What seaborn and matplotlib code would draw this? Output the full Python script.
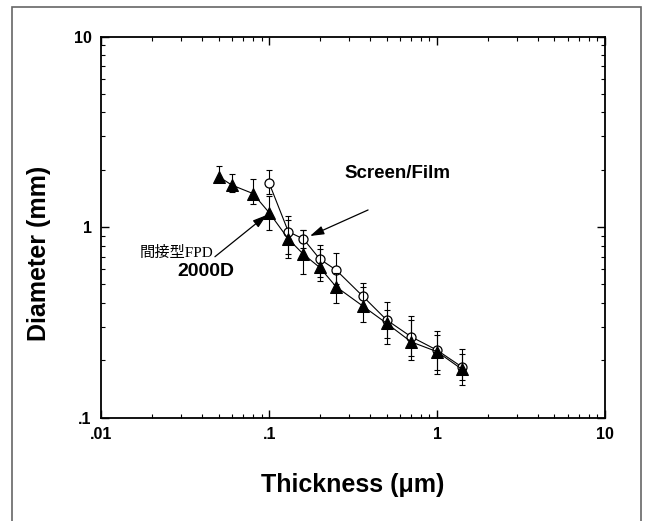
import matplotlib
matplotlib.use("Agg")
import matplotlib.pyplot as plt
from matplotlib.patches import Rectangle
from matplotlib.ticker import FixedLocator, FixedFormatter, LogLocator, NullFormatter
import seaborn as sns
import pandas as pd

# =========================
# DATA
# =========================
# indirect FPD 2000D (filled triangles)
thick_fpd = [0.05, 0.06, 0.08, 0.1, 0.13, 0.16, 0.2, 0.25, 0.36, 0.5, 0.7, 1.0, 1.4]
diam_fpd = [1.84, 1.66, 1.50, 1.19, 0.866, 0.72, 0.614, 0.487, 0.386, 0.313, 0.25, 0.222, 0.18]
fpd_lo = [1.73, 1.53, 1.32, 0.965, 0.686, 0.57, 0.524, 0.40, 0.319, 0.245, 0.20, 0.178, 0.157]
fpd_hi = [2.08, 1.89, 1.79, 1.45, 1.14, 0.965, 0.805, 0.575, 0.487, 0.367, 0.325, 0.27, 0.215]

# screen/film (open circles)
thick_sf = [0.1, 0.13, 0.16, 0.2, 0.25, 0.36, 0.5, 0.7, 1.0, 1.4]
diam_sf = [1.70, 0.946, 0.866, 0.68, 0.596, 0.435, 0.326, 0.266, 0.226, 0.185]
sf_lo = [1.49, 0.72, 0.78, 0.546, 0.50, 0.38, 0.263, 0.21, 0.169, 0.149]
sf_hi = [1.99, 1.09, 0.965, 0.765, 0.727, 0.507, 0.403, 0.34, 0.286, 0.228]

x_ticks = [0.01, 0.1, 1, 10]
x_ticklabels = [".01", ".1", "1", "10"]
y_ticks = [0.1, 1, 10]
y_ticklabels = [".1", "1", "10"]

df_fpd = pd.DataFrame({"thick": thick_fpd, "diam": diam_fpd, "lo": fpd_lo, "hi": fpd_hi})
df_sf = pd.DataFrame({"thick": thick_sf, "diam": diam_sf, "lo": sf_lo, "hi": sf_hi})

# =========================
# STYLE
# =========================
sns.set_theme(style="white")
plt.rcParams["font.family"] = ["Liberation Sans", "Noto Sans CJK JP"]
plt.rcParams["text.color"] = "black"
plt.rcParams["axes.labelcolor"] = "black"
plt.rcParams["xtick.color"] = "black"
plt.rcParams["ytick.color"] = "black"

fig = plt.figure(figsize=(6.49, 5.21), dpi=100)
ax = fig.add_axes([101.3 / 649, 1 - 417.7 / 521, (605 - 101.3) / 649, (417.7 - 36.5) / 521])

# =========================
# PLOT
# =========================
# screen/film first, triangles drawn on top
ax.errorbar(df_sf["thick"], df_sf["diam"],
            yerr=[df_sf["diam"] - df_sf["lo"], df_sf["hi"] - df_sf["diam"]],
            fmt="none", ecolor="black", elinewidth=0.8, capsize=2, capthick=0.8, zorder=2)
sns.lineplot(data=df_sf, x="thick", y="diam", ax=ax, sort=False, errorbar=None,
             color="black", lw=0.8, marker="o", markersize=6.5,
             markerfacecolor="white", markeredgecolor="black", markeredgewidth=0.9, zorder=3)

ax.errorbar(df_fpd["thick"], df_fpd["diam"],
            yerr=[df_fpd["diam"] - df_fpd["lo"], df_fpd["hi"] - df_fpd["diam"]],
            fmt="none", ecolor="black", elinewidth=0.8, capsize=2, capthick=0.8, zorder=4)
sns.lineplot(data=df_fpd, x="thick", y="diam", ax=ax, sort=False, errorbar=None,
             color="black", lw=0.8, marker="^", markersize=8,
             markerfacecolor="black", markeredgecolor="black", zorder=5)

# =========================
# AXES
# =========================
ax.set_xscale("log")
ax.set_yscale("log")
ax.set_xlim(0.01, 10)
ax.set_ylim(0.1, 10)

ax.xaxis.set_major_locator(FixedLocator(x_ticks))
ax.xaxis.set_major_formatter(FixedFormatter(x_ticklabels))
ax.yaxis.set_major_locator(FixedLocator(y_ticks))
ax.yaxis.set_major_formatter(FixedFormatter(y_ticklabels))
ax.xaxis.set_minor_locator(LogLocator(base=10, subs=range(2, 10)))
ax.yaxis.set_minor_locator(LogLocator(base=10, subs=range(2, 10)))
ax.xaxis.set_minor_formatter(NullFormatter())
ax.yaxis.set_minor_formatter(NullFormatter())

ax.tick_params(which="both", direction="in", top=True, right=True,
               bottom=True, left=True, color="black")
ax.tick_params(which="major", length=6, width=1, labelsize=11.5, pad=7)
ax.tick_params(which="minor", length=3, width=0.8)
for lab in ax.get_xticklabels() + ax.get_yticklabels():
    lab.set_fontweight("bold")

for sp in ax.spines.values():
    sp.set_color("black")
    sp.set_linewidth(1.3)

ax.set_xlabel("Thickness (\u03bcm)", fontsize=18, fontweight="bold", labelpad=22)
ax.set_ylabel("Diameter (mm)", fontsize=18, fontweight="bold")
ax.yaxis.set_label_coords(-0.1, 0.43)

# =========================
# ANNOTATIONS
# =========================
arrow = dict(arrowstyle="-|>,head_length=0.7,head_width=0.22", color="black",
             lw=0.9, mutation_scale=12, shrinkA=0, shrinkB=0)
ax.annotate("", xy=(0.175, 0.898), xytext=(0.388, 1.23), arrowprops=arrow)
ax.text(0.279, 1.91, "Screen/Film", fontsize=13.5, fontweight="bold",
        ha="left", va="center")

ax.annotate("", xy=(0.0966, 1.157), xytext=(0.0475, 0.699), arrowprops=arrow)
ax.text(0.0170, 0.731, "間接型FPD", fontsize=11, ha="left", va="center",
        family=["Liberation Serif", "Noto Sans CJK JP"])
ax.text(0.0283, 0.583, "2000D", fontsize=14, fontweight="bold",
        ha="left", va="center")

# outer frame of the figure (bottom edge runs off the picture)
fig.add_artist(Rectangle((12 / 649, -0.1), (641 - 12) / 649, 1.1 - 7.4 / 521,
                         transform=fig.transFigure, fill=False,
                         edgecolor="#666666", lw=1.2, clip_on=False))

fig.savefig("out.png", dpi=100)
plt.close(fig)
